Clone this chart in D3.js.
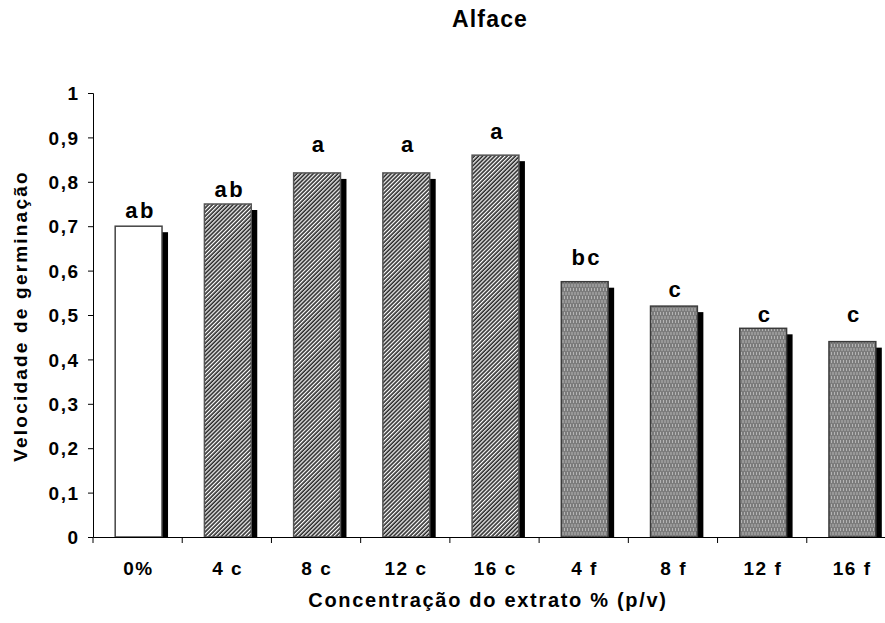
<!DOCTYPE html>
<html>
<head>
<meta charset="utf-8">
<script src="https://cdn.jsdelivr.net/npm/d3@7"></script>
<style>
  html, body { margin: 0; padding: 0; background: #fff; }
  svg { display: block; font-family: "Liberation Sans", Arial, sans-serif; }
</style>
</head>
<body>
<svg id="chart" width="885" height="623"></svg>
<script>
// Germination speed per extract concentration (c = coarse, f = fine)
const categories = ["0%", "4 c", "8 c", "12 c", "16 c", "4 f", "8 f", "12 f", "16 f"];
const speed      = [0.70, 0.75, 0.82, 0.82, 0.86, 0.575, 0.52, 0.47, 0.44];
const groups     = ["ab", "ab", "a", "a", "a", "bc", "c", "c", "c"];
// level (axis units) at which each group letter sits
const letterAt   = [0.718, 0.766, 0.868, 0.868, 0.896, 0.613, 0.541, 0.485, 0.485];
const yTicks     = [0, 0.1, 0.2, 0.3, 0.4, 0.5, 0.6, 0.7, 0.8, 0.9, 1];

const svg = d3.select("#chart");
const margin = { left: 93, top: 93, bottom: 537, right: 896 };
const FONT = "Liberation Sans, Arial, sans-serif";

const x = d3.scaleBand().domain(categories).range([margin.left, margin.right]).padding(0);
const y = d3.scaleLinear().domain([0, 1]).range([margin.bottom, margin.top]);

// patterns
const defs = svg.append("defs");
const hatch = defs.append("pattern")
  .attr("id", "hatch").attr("patternUnits", "userSpaceOnUse")
  .attr("width", 2.9).attr("height", 10).attr("patternTransform", "rotate(45)");
hatch.append("rect").attr("width", 2.9).attr("height", 10).attr("fill", "#2a2a2a");
hatch.append("rect").attr("x", 0).attr("width", 1.25).attr("height", 10).attr("fill", "#ffffff");

const dots = defs.append("pattern")
  .attr("id", "dots").attr("patternUnits", "userSpaceOnUse")
  .attr("width", 3).attr("height", 8);
dots.append("rect").attr("width", 3).attr("height", 8).attr("fill", "#7c7c7c");
dots.append("rect").attr("x", 0).attr("y", 0).attr("width", 1).attr("height", 3).attr("fill", "#b4b4b4");
dots.append("rect").attr("x", 1.5).attr("y", 4).attr("width", 1).attr("height", 3).attr("fill", "#b4b4b4");

const fillFor = c => c.endsWith("c") ? "url(#hatch)" : c.endsWith("f") ? "url(#dots)" : "#ffffff";
const strokeFor = c => c.endsWith("c") ? "#555" : c.endsWith("f") ? "#3a3a3a" : "#444";

const barW = x.bandwidth() * 0.525;
const barX = c => x(c) + (x.bandwidth() - barW) / 2 + 1;
const shadow = 6;

const bars = svg.append("g");
categories.forEach((c, i) => {
  const top = y(speed[i]);
  bars.append("rect")
    .attr("x", barX(c) + shadow).attr("y", top + shadow)
    .attr("width", barW).attr("height", y(0) - top - shadow)
    .attr("fill", "#000");
  bars.append("rect")
    .attr("x", barX(c)).attr("y", top)
    .attr("width", barW).attr("height", y(0) - top)
    .attr("fill", fillFor(c))
    .attr("stroke", strokeFor(c)).attr("stroke-width", 1.5);
});

// group letters
svg.append("g").selectAll("text").data(categories).join("text")
  .attr("x", c => barX(c) + barW / 2 + 2)
  .attr("y", (c, i) => y(letterAt[i]))
  .attr("text-anchor", "middle")
  .attr("font-size", 22).attr("font-weight", "bold")
  .attr("letter-spacing", 2.5)
  .text((c, i) => groups[i]);

// y axis
const yAxis = svg.append("g").attr("transform", `translate(${margin.left},0)`)
  .call(d3.axisLeft(y).tickValues(yTicks).tickSize(5).tickPadding(8.5)
    .tickFormat(d => d3.format(".1~f")(d).replace(".", ",")));
yAxis.select(".domain").attr("stroke", "#000").attr("stroke-width", 1);
yAxis.selectAll(".tick line").attr("stroke", "#000");
yAxis.selectAll("text").attr("font-size", 19).attr("font-weight", "bold")
  .attr("font-family", FONT).attr("fill", "#000")
  .attr("letter-spacing", 1.5).attr("dy", "0.35em");

// x axis
const xAxis = svg.append("g").attr("transform", `translate(0,${margin.bottom})`)
  .call(d3.axisBottom(x).tickSize(0));
xAxis.select(".domain").attr("stroke", "#000").attr("stroke-width", 1);
xAxis.selectAll("text").attr("font-size", 19).attr("font-weight", "bold")
  .attr("font-family", FONT).attr("fill", "#000")
  .attr("letter-spacing", 1.5).attr("y", 38).attr("dy", 0).attr("dx", 0.75);
// separators between categories
svg.append("g").selectAll("line").data(categories).join("line")
  .attr("x1", c => x(c)).attr("x2", c => x(c))
  .attr("y1", margin.bottom).attr("y2", margin.bottom + 6)
  .attr("stroke", "#000");

// titles
svg.append("text").attr("x", 490).attr("y", 27).attr("text-anchor", "middle")
  .attr("font-size", 23).attr("font-weight", "bold").attr("letter-spacing", 1.2)
  .text("Alface");
svg.append("text").attr("x", 488).attr("y", 607).attr("text-anchor", "middle")
  .attr("font-size", 20).attr("font-weight", "bold").attr("letter-spacing", 1.7)
  .text("Concentração do extrato % (p/v)");
svg.append("text").attr("transform", "translate(27,316) rotate(-90)")
  .attr("text-anchor", "middle")
  .attr("font-size", 19).attr("font-weight", "bold").attr("letter-spacing", 2.2)
  .text("Velocidade de germinação");
</script>
</body>
</html>
